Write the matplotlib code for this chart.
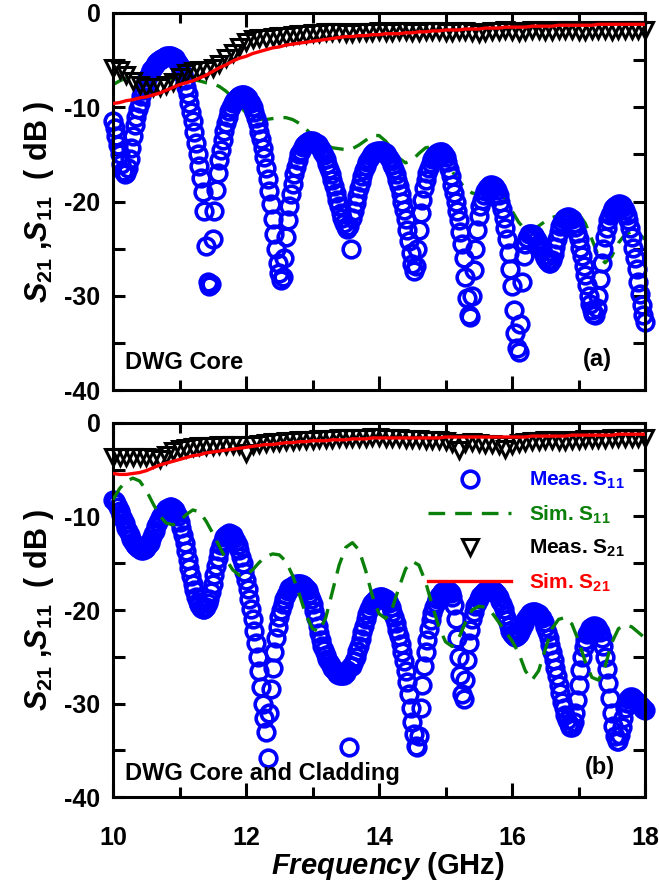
import numpy as np
import matplotlib
matplotlib.use('Agg')
import matplotlib.pyplot as plt

plt.rcParams['font.family'] = ['Liberation Sans', 'DejaVu Sans']
plt.rcParams['font.weight'] = 'bold'
plt.rcParams['axes.labelweight'] = 'bold'
plt.rcParams['axes.unicode_minus'] = False
plt.rcParams['mathtext.fontset'] = 'custom'
plt.rcParams['mathtext.rm'] = 'Liberation Sans:bold'
plt.rcParams['mathtext.it'] = 'Liberation Sans:italic:bold'
plt.rcParams['mathtext.bf'] = 'Liberation Sans:bold'

# measured S11: 10-18 GHz sweep, 0.025 GHz step (one row = 0.2 GHz)
meas_s11_a = [
    -11.5, -12.2, -13.0, -14.0, -15.0, -16.0, -16.8, -17.1,
    -17.0, -16.4, -15.5, -14.3, -13.0, -11.9, -11.0, -10.2,
    -9.5, -8.8, -8.2, -7.7, -7.2, -6.8, -6.4, -6.1,
    -5.8, -5.5, -5.3, -5.1, -5.0, -4.9, -4.8, -4.7,
    -4.6, -4.6, -4.6, -4.6, -4.7, -4.8, -5.0, -5.3,
    -5.6, -6.0, -6.5, -7.1, -7.8, -8.6, -9.5, -10.5,
    -11.5, -12.6, -13.8, -15.0, -16.2, -17.5, -19.0, -21.0,
    -24.7, -28.5, -29.0, -28.7, -24.0, -21.0, -18.8, -17.0,
    -15.6, -14.5, -13.5, -12.5, -11.7, -11.0, -10.4, -10.0,
    -9.6, -9.3, -9.1, -8.9, -8.8, -8.7, -8.7, -8.7,
    -8.8, -9.0, -9.3, -9.6, -10.0, -10.5, -11.1, -11.8,
    -12.6, -13.4, -14.3, -15.3, -16.4, -17.6, -18.9, -20.3,
    -21.9, -23.5, -25.0, -26.5, -27.6, -28.3, -28.0, -26.0,
    -23.8, -22.0, -20.5, -19.2, -18.1, -17.1, -16.3, -15.6,
    -15.0, -14.6, -14.2, -14.0, -13.8, -13.7, -13.6, -13.6,
    -13.6, -13.7, -13.8, -13.9, -14.1, -14.4, -14.7, -15.1,
    -15.5, -16.0, -16.5, -17.1, -17.7, -18.4, -19.1, -19.8,
    -20.5, -21.2, -21.8, -22.3, -22.7, -22.9, -22.6, -25.0,
    -21.8, -21.0, -20.2, -19.4, -18.6, -17.9, -17.3, -16.7,
    -16.2, -15.8, -15.5, -15.2, -15.0, -14.8, -14.7, -14.6,
    -14.6, -14.6, -14.6, -14.7, -14.9, -15.1, -15.4, -15.7,
    -16.1, -16.6, -17.1, -17.7, -18.4, -19.2, -20.0, -20.9,
    -21.9, -23.0, -24.2, -25.5, -26.6, -27.4, -26.8, -25.0,
    -23.0, -21.2, -19.8, -18.6, -17.7, -17.0, -16.4, -15.9,
    -15.5, -15.2, -15.0, -14.9, -14.8, -14.8, -14.8, -15.0,
    -15.3, -15.8, -16.5, -17.3, -18.2, -19.1, -20.0, -21.0,
    -22.0, -23.2, -24.5, -26.0, -28.0, -30.2, -32.0, -32.3,
    -30.0, -27.3, -25.0, -23.0, -21.5, -20.5, -19.8, -19.3,
    -18.9, -18.6, -18.4, -18.3, -18.3, -18.4, -18.5, -18.8,
    -19.3, -20.0, -20.8, -21.7, -22.8, -24.0, -25.5, -27.2,
    -29.0, -31.5, -34.0, -35.5, -36.0, -33.0, -28.5, -25.8,
    -24.5, -23.9, -23.5, -23.4, -23.4, -23.6, -23.8, -24.1,
    -24.5, -24.9, -25.3, -25.7, -26.0, -26.3, -26.5, -26.5,
    -26.2, -25.6, -24.8, -24.0, -23.2, -22.6, -22.2, -21.9,
    -21.7, -21.6, -21.6, -21.7, -21.9, -22.3, -22.7, -23.3,
    -24.0, -24.9, -25.8, -26.8, -27.8, -28.9, -30.0, -30.9,
    -31.5, -31.9, -32.0, -31.3, -30.0, -28.2, -26.5, -25.0,
    -23.8, -22.8, -22.0, -21.4, -21.0, -20.7, -20.5, -20.4,
    -20.3, -20.3, -20.4, -20.6, -20.9, -21.4, -22.0, -22.8,
    -23.8, -24.9, -26.0, -27.2, -28.5, -29.8, -31.0, -32.0,
    -32.8,
]
meas_s11_b = [
    -8.2, -8.3, -8.6, -9.0, -9.4, -9.8, -10.3, -10.7,
    -11.2, -11.6, -12.0, -12.4, -12.7, -13.0, -13.2, -13.4,
    -13.5, -13.6, -13.6, -13.5, -13.4, -13.1, -12.8, -12.4,
    -11.9, -11.5, -11.0, -10.6, -10.2, -9.9, -9.6, -9.4,
    -9.2, -9.1, -9.0, -9.0, -9.1, -9.3, -9.6, -10.0,
    -10.6, -11.2, -12.0, -12.8, -13.7, -14.6, -15.5, -16.4,
    -17.2, -17.9, -18.6, -19.1, -19.5, -19.8, -19.9, -19.9,
    -19.7, -19.3, -18.8, -18.1, -17.2, -16.3, -15.3, -14.4,
    -13.7, -13.1, -12.6, -12.2, -12.0, -11.9, -11.8, -11.9,
    -12.0, -12.3, -12.6, -13.1, -13.6, -14.3, -15.0, -15.9,
    -16.8, -17.8, -18.8, -19.9, -21.0, -22.2, -23.5, -25.0,
    -26.5, -28.2, -30.0, -31.5, -33.0, -35.8, -31.0, -28.5,
    -26.2, -24.5, -23.0, -21.8, -20.8, -20.0, -19.4, -18.8,
    -18.4, -18.0, -17.7, -17.5, -17.4, -17.3, -17.2, -17.2,
    -17.2, -17.2, -17.3, -17.4, -17.6, -17.9, -18.3, -18.8,
    -19.4, -20.1, -20.9, -21.7, -22.5, -23.2, -23.8, -24.3,
    -24.8, -25.2, -25.6, -25.9, -26.2, -26.4, -26.6, -26.8,
    -26.9, -27.0, -27.0, -27.0, -26.7, -26.4, -34.6, -26.0,
    -26.0, -25.5, -25.0, -24.4, -23.8, -23.1, -22.4, -21.7,
    -21.0, -20.4, -19.9, -19.5, -19.2, -19.0, -18.8, -18.7,
    -18.6, -18.6, -18.6, -18.7, -18.8, -19.0, -19.3, -19.7,
    -20.2, -20.8, -21.4, -22.1, -22.8, -23.6, -24.5, -25.5,
    -26.5, -27.7, -29.0, -30.5, -32.0, -33.3, -34.5, -34.7,
    -33.5, -30.5, -28.0, -26.0, -24.5, -23.2, -22.0, -21.1,
    -20.3, -19.7, -19.2, -18.8, -18.5, -18.3, -18.1, -18.0,
    -17.9, -17.9, -18.0, -18.2, -18.6, -19.5, -21.0, -23.0,
    -25.0, -27.0, -29.0, -29.5, -27.5, -25.3, -23.5, -22.1,
    -21.0, -20.2, -19.6, -19.2, -18.8, -18.5, -18.3, -18.1,
    -18.0, -17.9, -17.9, -17.9, -17.9, -18.0, -18.1, -18.3,
    -18.6, -19.0, -19.4, -19.9, -20.5, -21.1, -21.7, -22.2,
    -22.6, -22.8, -22.9, -22.8, -22.6, -22.3, -21.9, -21.5,
    -21.1, -20.8, -20.5, -20.3, -20.2, -20.2, -20.2, -20.3,
    -20.4, -20.6, -20.9, -21.3, -21.8, -22.4, -23.0, -23.7,
    -24.5, -25.3, -26.2, -27.1, -28.0, -28.9, -29.8, -30.5,
    -31.2, -31.8, -32.2, -32.5, -32.5, -32.0, -31.0, -29.6,
    -28.0, -26.4, -25.0, -24.0, -23.2, -22.6, -22.2, -21.9,
    -21.8, -21.7, -21.7, -21.8, -22.0, -22.4, -23.0, -23.9,
    -25.0, -26.3, -27.8, -29.4, -31.0, -32.4, -33.5, -34.0,
    -34.0, -33.4, -32.5, -31.5, -30.5, -29.9, -29.5, -29.3,
    -29.3, -29.4, -29.6, -29.8, -30.0, -30.2, -30.4, -30.6,
    -30.7,
]

# simulated S11, measured and simulated S21: 0.1 GHz step (one row = 1 GHz)
sim_s11_a = [
    -7.6, -7.2, -6.9, -6.7, -6.6, -6.6, -6.7, -6.9, -7.0, -7.0,
    -7.0, -7.0, -7.1, -7.2, -7.4, -7.5, -7.8, -8.3, -9.0, -9.8,
    -10.6, -11.1, -11.3, -11.3, -11.2, -11.1, -11.1, -11.3, -11.7, -12.3,
    -13.0, -13.6, -14.0, -14.3, -14.4, -14.5, -14.4, -14.0, -13.5, -13.0,
    -13.0, -13.6, -14.5, -15.4, -15.9, -15.6, -14.9, -14.3, -14.2, -14.6,
    -15.6, -16.8, -17.8, -18.6, -19.1, -19.2, -19.0, -18.8, -19.0, -19.8,
    -21.0, -22.2, -23.0, -23.0, -22.6, -22.1, -21.7, -21.5, -21.4, -21.3,
    -21.3, -22.3, -24.0, -25.8, -26.5, -25.8, -24.4, -23.5, -23.2, -23.4,
    -24.0,
]
meas_s21_a = [
    -5.8, -6.0, -6.6, -7.2, -7.6, -7.8, -7.9, -7.8, -7.6, -7.3,
    -6.8, -6.4, -6.2, -6.1, -6.0, -5.8, -5.4, -4.8, -4.2, -3.6,
    -3.1, -2.8, -2.7, -2.6, -2.5, -2.4, -2.4, -2.3, -2.2, -2.2,
    -2.1, -2.1, -2.0, -2.0, -2.0, -2.1, -2.1, -2.0, -2.0, -2.0,
    -1.9, -2.0, -2.0, -1.9, -1.9, -2.0, -2.0, -1.9, -1.9, -1.9,
    -2.0, -2.0, -1.9, -1.9, -2.0, -2.1, -2.0, -1.9, -1.9, -1.8,
    -1.9, -2.0, -1.9, -1.8, -1.8, -1.9, -1.9, -1.8, -1.8, -1.8,
    -1.9, -1.9, -1.8, -1.8, -1.8, -1.9, -1.8, -1.8, -1.8, -1.8,
    -1.8,
]
sim_s21_a = [
    -9.6, -9.5, -9.3, -9.2, -9.0, -8.9, -8.7, -8.5, -8.2, -7.9,
    -7.6, -7.4, -7.2, -6.9, -6.6, -6.2, -5.8, -5.5, -5.1, -4.8,
    -4.6, -4.3, -4.1, -3.9, -3.7, -3.6, -3.4, -3.3, -3.2, -3.1,
    -3.0, -2.9, -2.8, -2.7, -2.6, -2.5, -2.5, -2.4, -2.4, -2.3,
    -2.3, -2.2, -2.2, -2.2, -2.1, -2.1, -2.0, -2.0, -1.9, -1.9,
    -1.8, -1.8, -1.8, -1.7, -1.7, -1.7, -1.6, -1.6, -1.6, -1.5,
    -1.5, -1.5, -1.5, -1.4, -1.4, -1.4, -1.4, -1.3, -1.3, -1.3,
    -1.3, -1.3, -1.3, -1.2, -1.2, -1.2, -1.2, -1.2, -1.2, -1.2,
    -1.2,
]
sim_s11_b = [
    -8.2, -7.0, -6.2, -5.9, -6.2, -7.2, -8.6, -9.9, -10.7, -10.9,
    -10.5, -9.8, -9.3, -9.5, -10.5, -11.8, -13.2, -14.6, -15.7, -16.3,
    -16.3, -15.7, -14.9, -14.3, -14.0, -14.1, -14.8, -16.3, -18.3, -20.5,
    -22.0, -22.3, -20.8, -18.0, -15.2, -13.3, -12.8, -13.6, -15.8, -18.5,
    -20.4, -20.9, -19.8, -17.6, -15.6, -14.8, -15.2, -17.0, -19.5, -21.8,
    -23.4, -23.9, -23.0, -21.3, -20.0, -19.6, -19.7, -20.3, -21.3, -22.3,
    -23.3, -24.6, -26.5, -27.5, -26.5, -24.2, -22.0, -21.0, -20.8, -21.5,
    -23.3, -25.5, -27.2, -27.5, -26.0, -23.5, -22.0, -21.6, -21.8, -22.4,
    -23.0,
]
meas_s21_b = [
    -3.6, -3.6, -3.6, -3.6, -3.6, -3.6, -3.7, -3.8, -3.4, -3.0,
    -2.8, -2.7, -2.6, -2.5, -2.5, -2.5, -2.4, -2.4, -2.4, -2.4,
    -3.2, -2.3, -2.2, -2.1, -2.0, -2.0, -1.9, -1.9, -1.8, -1.8,
    -1.8, -1.7, -1.7, -1.7, -1.6, -1.6, -1.6, -1.6, -1.6, -1.5,
    -1.5, -1.6, -1.6, -1.6, -1.7, -1.7, -1.7, -1.8, -1.8, -1.8,
    -1.9, -2.1, -2.9, -2.1, -2.0, -2.1, -2.2, -2.2, -2.4, -2.8,
    -2.3, -2.1, -2.0, -1.9, -1.9, -1.8, -1.8, -1.9, -1.9, -1.8,
    -1.8, -1.7, -1.7, -1.7, -1.7, -1.6, -1.6, -1.6, -1.6, -1.6,
    -1.6,
]
sim_s21_b = [
    -5.4, -5.5, -5.5, -5.4, -5.3, -5.1, -4.8, -4.5, -4.3, -4.1,
    -3.9, -3.7, -3.5, -3.4, -3.2, -3.1, -3.0, -2.9, -2.8, -2.7,
    -2.6, -2.5, -2.4, -2.3, -2.3, -2.2, -2.1, -2.1, -2.0, -2.0,
    -1.9, -1.9, -1.9, -1.8, -1.8, -1.8, -1.7, -1.7, -1.7, -1.6,
    -1.6, -1.6, -1.6, -1.6, -1.6, -1.6, -1.6, -1.6, -1.6, -1.6,
    -1.5, -1.5, -1.5, -1.5, -1.5, -1.5, -1.5, -1.5, -1.5, -1.5,
    -1.5, -1.5, -1.5, -1.4, -1.4, -1.4, -1.4, -1.4, -1.4, -1.3,
    -1.3, -1.3, -1.3, -1.3, -1.3, -1.3, -1.2, -1.2, -1.2, -1.2,
    -1.2,
]

f_fine = np.linspace(10, 18, len(meas_s11_a))
f_coarse = np.linspace(10, 18, len(sim_s11_a))

BLUE = '#0000ff'
GREEN = '#0a800a'
RED = '#ff0000'

fig = plt.figure(figsize=(6.59, 8.84), dpi=100)
ax_a = fig.add_axes([0.1715, 0.5588, 0.8073, 0.4265])
ax_b = fig.add_axes([0.1715, 0.0984, 0.8073, 0.4231])


def draw_panel(ax, s11, s11_sim, s21, s21_sim, sim_on_top):
    h1, = ax.plot(f_fine, s11, 'o', ms=12, mfc='none', mec=BLUE, mew=2.6,
                  color=BLUE, clip_on=False, zorder=2)
    h2, = ax.plot(f_coarse, s11_sim, '-', color=GREEN, lw=2.4,
                  dashes=(5, 3), zorder=3 if sim_on_top else 1)
    h3, = ax.plot(f_coarse, s21, 'v', ms=11, mfc='none', mec='black',
                  mew=2.2, color='black', clip_on=False, zorder=4)
    h4, = ax.plot(f_coarse, s21_sim, '-', color=RED, lw=2.4, zorder=5)

    ax.set_xlim(10, 18)
    ax.set_ylim(-40, 0)
    ax.set_xticks([10, 12, 14, 16, 18])
    ax.set_xticks([11, 13, 15, 17], minor=True)
    ax.set_yticks([-40, -30, -20, -10, 0])
    ax.set_yticks([-35, -25, -15, -5], minor=True)
    ax.tick_params(axis='both', which='both', direction='in', top=True,
                   right=True, width=2.2, labelsize=18)
    ax.tick_params(axis='x', which='major', length=10, pad=21)
    ax.tick_params(axis='x', which='minor', length=7)
    ax.tick_params(axis='y', which='both', length=8.5, pad=9)
    for sp in ax.spines.values():
        sp.set_linewidth(2.2)
    ax.set_ylabel(r'$S_{21}$ ,$S_{11}$  ( dB )', fontsize=22, labelpad=6)
    return [h1, h2, h3, h4]


draw_panel(ax_a, meas_s11_a, sim_s11_a, meas_s21_a, sim_s21_a, False)
handles = draw_panel(ax_b, meas_s11_b, sim_s11_b, meas_s21_b, sim_s21_b, True)

ax_a.tick_params(axis='x', labelbottom=False)
ax_b.set_xlabel(r'$Frequency$ (GHz)', fontsize=21)
ax_b.xaxis.set_label_coords(0.517, -0.142)

ax_a.text(0.0226, 0.072, 'DWG Core', transform=ax_a.transAxes, fontsize=17,
          va='center', ha='left')
ax_a.text(0.883, 0.08, '(a)', transform=ax_a.transAxes, fontsize=17,
          va='center', ha='left')
ax_b.text(0.0226, 0.064, 'DWG Core and Cladding', transform=ax_b.transAxes,
          fontsize=17, va='center', ha='left')
ax_b.text(0.887, 0.078, '(b)', transform=ax_b.transAxes, fontsize=17,
          va='center', ha='left')

labels = [r'Meas. S$_{11}$', r'Sim. S$_{11}$', r'Meas. S$_{21}$',
          r'Sim. S$_{21}$']
ax_b.legend(handles, labels, loc='upper left', bbox_to_anchor=(0.592, 0.874),
            frameon=False, fontsize=15, handlelength=4.0, handletextpad=0.87,
            labelspacing=0.58, borderpad=0, borderaxespad=0, numpoints=1,
            labelcolor=[BLUE, GREEN, 'black', RED])

fig.savefig('out.png', dpi=100)
